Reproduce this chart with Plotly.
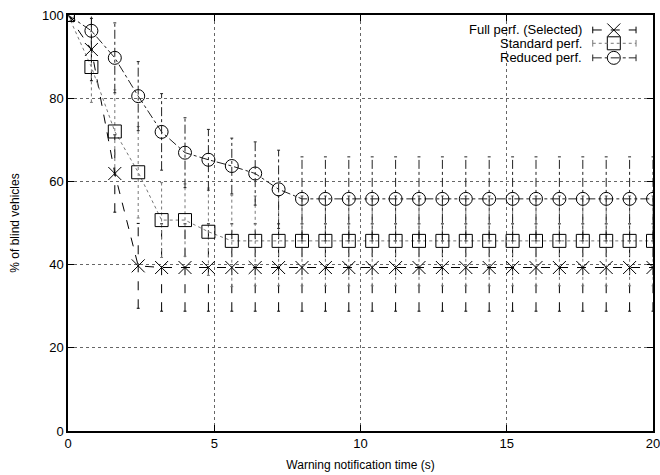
import plotly.graph_objects as go

# ---- data ----
time_s = [0, 0.8, 1.6, 2.4, 3.2, 4.0, 4.8, 5.6, 6.4, 7.2, 8.0, 8.8, 9.6,
          10.4, 11.2, 12.0, 12.8, 13.6, 14.4, 15.2, 16.0, 16.8, 17.6, 18.4, 19.2, 20.0]

full_perf = [100, 91.7, 61.9, 39.7, 39.3, 39.3, 39.3, 39.3, 39.3, 39.3, 39.3, 39.3, 39.3,
             39.3, 39.3, 39.3, 39.3, 39.3, 39.3, 39.3, 39.3, 39.3, 39.3, 39.3, 39.3, 39.3]
full_err = [0, 7.5, 9.3, 10.2, 10.5, 10.5, 10.5, 10.5, 10.5, 10.5, 10.5, 10.5, 10.5,
            10.5, 10.5, 10.5, 10.5, 10.5, 10.5, 10.5, 10.5, 10.5, 10.5, 10.5, 10.5, 10.5]

std_perf = [100, 87.5, 72.0, 62.2, 50.7, 50.7, 47.9, 45.7, 45.7, 45.7, 45.7, 45.7, 45.7,
            45.7, 45.7, 45.7, 45.7, 45.7, 45.7, 45.7, 45.7, 45.7, 45.7, 45.7, 45.7, 45.7]
std_err = [0, 8.5, 10.0, 11.0, 9.0, 8.7, 10.5, 11.0, 10.8, 10.8, 10.8, 10.8, 10.8,
           10.8, 10.8, 10.8, 10.8, 10.8, 10.8, 10.8, 10.8, 10.8, 10.8, 10.8, 10.8, 10.8]

red_perf = [100, 96.2, 89.7, 80.5, 71.9, 66.9, 65.2, 63.7, 61.9, 58.1, 55.8, 55.8, 55.8,
            55.8, 55.8, 55.8, 55.8, 55.8, 55.8, 55.8, 55.8, 55.8, 55.8, 55.8, 55.8, 55.8]
red_err = [0, 4.5, 8.4, 8.3, 9.2, 8.4, 7.3, 6.7, 7.6, 9.4, 10.1, 10.1, 10.1,
           10.1, 10.1, 10.1, 10.1, 10.1, 10.1, 10.1, 10.1, 10.1, 10.1, 10.1, 10.1, 10.1]

series_names = ["Full perf. (Selected)", "Standard perf.", "Reduced perf."]
x_ticks = [0, 5, 10, 15, 20]
y_ticks = [0, 20, 40, 60, 80, 100]

FONT = "Liberation Sans, Arial, Helvetica, sans-serif"

styles = [
    dict(vals=full_perf, err=full_err, color="#000000", dash="dash",
         symbol="x-thin-open", size=13),
    dict(vals=std_perf, err=std_err, color="#777777", dash="dot",
         symbol="square-open", size=13),
    dict(vals=red_perf, err=red_err, color="#222222", dash="dashdot",
         symbol="circle-open", size=13),
]

fig = go.Figure()

CAP = 0.05
for name, st in zip(series_names, styles):
    vx, vy, cx, cy = [], [], [], []
    for x, y, e in zip(time_s, st["vals"], st["err"]):
        if e <= 0:
            continue
        vx += [x, x, None]
        vy += [y - e, y + e, None]
        cx += [x - CAP, x + CAP, None, x - CAP, x + CAP, None]
        cy += [y - e, y - e, None, y + e, y + e, None]
    fig.add_trace(go.Scatter(x=vx, y=vy, mode="lines", showlegend=False, hoverinfo="skip",
                             line=dict(color=st["color"], width=1, dash=st["dash"])))
    fig.add_trace(go.Scatter(x=cx, y=cy, mode="lines", showlegend=False, hoverinfo="skip",
                             line=dict(color=st["color"], width=1)))

for name, st in zip(series_names, styles):
    fig.add_trace(go.Scatter(
        x=time_s, y=st["vals"], mode="lines+markers", name=name, showlegend=False,
        line=dict(color=st["color"], width=1, dash=st["dash"]),
        marker=dict(symbol=st["symbol"], size=st["size"], color="#000000",
                    line=dict(color="#000000", width=1)),
    ))

# ---- manual gnuplot-style legend (text right, sample on the right) ----
leg_rows = [0.964, 0.932, 0.897]
x0, x1, xm = 0.897, 0.971, 0.933
shapes = []
annotations = []
for row, name, st in zip(leg_rows, series_names, styles):
    shapes.append(dict(type="line", xref="paper", yref="paper", x0=x0, x1=x1, y0=row, y1=row,
                       line=dict(color=st["color"], width=1, dash=st["dash"])))
    for xe in (x0, x1):
        shapes.append(dict(type="line", xref="paper", yref="paper", x0=xe, x1=xe,
                           y0=row - 0.008, y1=row + 0.008, line=dict(color=st["color"], width=1)))
    annotations.append(dict(xref="paper", yref="paper", x=0.882, y=row, text=name,
                            showarrow=False, xanchor="right", yanchor="middle",
                            font=dict(family=FONT, size=13, color="#000")))
    fig.add_trace(go.Scatter(x=[xm], y=[row], xaxis="x2", yaxis="y2", mode="markers",
                             showlegend=False, hoverinfo="skip",
                             marker=dict(symbol=st["symbol"], size=st["size"], color="#000",
                                         line=dict(color="#000", width=1))))

axis_common = dict(showline=True, mirror="ticks", linecolor="#000", linewidth=1.5,
                   ticks="inside", ticklen=6, tickcolor="#000", showgrid=True,
                   gridcolor="#666", griddash="dot", gridwidth=1, zeroline=False,
                   automargin=False, ticklabeloverflow="allow",
                   tickfont=dict(family=FONT, size=13, color="#000"))

fig.update_layout(
    width=660, height=475,
    margin=dict(l=68, r=7, t=15, b=44),
    paper_bgcolor="white", plot_bgcolor="white",
    showlegend=False,
    xaxis=dict(range=[0, 20], tickvals=x_ticks, **axis_common,
               title=dict(text="Warning notification time (s)", standoff=10,
                          font=dict(family=FONT, size=12, color="#000"))),
    yaxis=dict(range=[0, 100], tickvals=y_ticks, **axis_common,
               title=dict(text="% of blind vehicles", standoff=20,
                          font=dict(family=FONT, size=12, color="#000"))),
    xaxis2=dict(range=[0, 1], overlaying="x", visible=False, fixedrange=True),
    yaxis2=dict(range=[0, 1], overlaying="y", visible=False, fixedrange=True),
    shapes=shapes, annotations=annotations,
)

fig.write_html("out.html")
